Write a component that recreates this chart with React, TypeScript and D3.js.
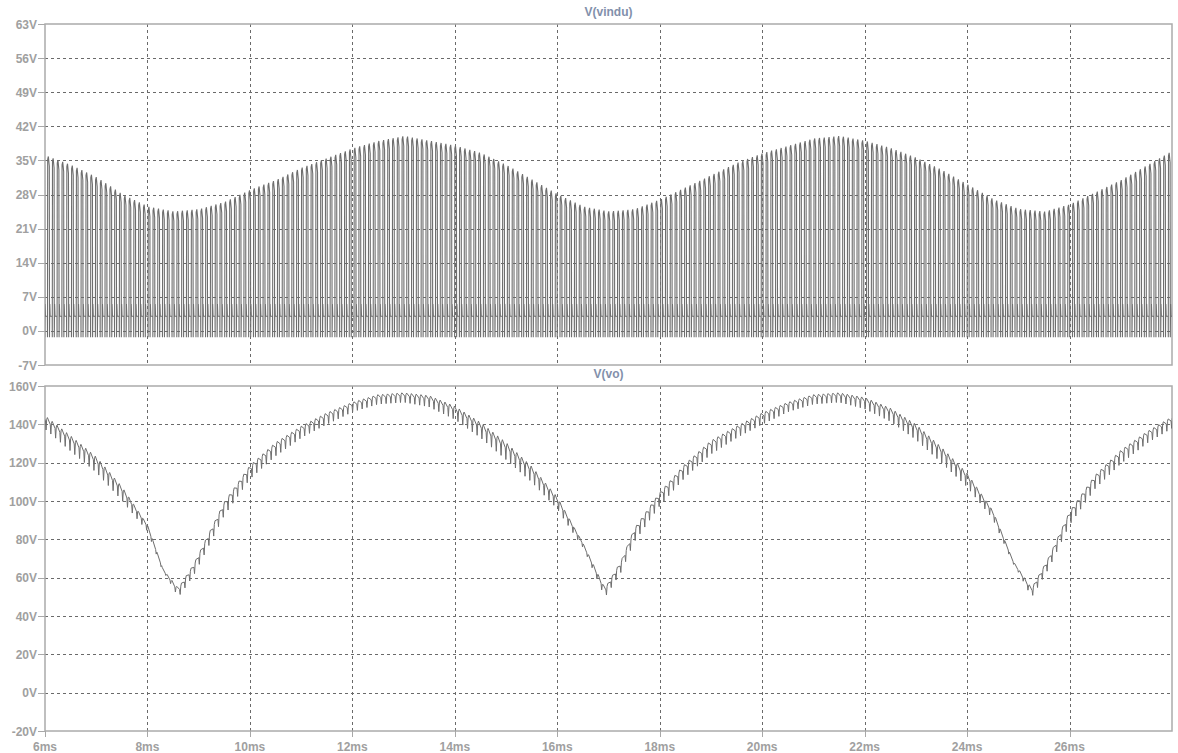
import React, { useEffect, useRef } from "react";
import * as d3 from "d3";

const msTicks = [6, 8, 10, 12, 14, 16, 18, 20, 22, 24, 26];
const vinduTicks = [-7, 0, 7, 14, 21, 28, 35, 42, 49, 56, 63];
const voTicks = [-20, 0, 20, 40, 60, 80, 100, 120, 140, 160];

// switching period of the converter (ms), counted off the pulses
const switchPeriod = 0.0935;

// V(vindu): pulse top, read every 0.5ms from 6ms to 28ms
const vinduT = d3.range(6, 28.01, 0.5);
const vinduPeak = [
  36, 34, 31.5, 28, 25.5, 24.5, 25, 26.5, 29, 31, 33.5, 35.5, 37.5, 39, 40,
  39, 38, 36.5, 34, 31, 28, 25.5, 24.5, 25, 27, 29.5, 32, 34.5, 36.5, 38,
  39.5, 40, 39, 37.5, 35.5, 33, 30, 27, 25, 24.5, 26, 28.5, 31, 34, 37,
];
const vinduLow = 3;
const vinduSpike = -1.3;
const vinduRing = 5.5;

// V(vo): middle of the ripple band and its depth
const voT = [
  6, 6.5, 7, 7.5, 8, 8.3, 8.6, 8.9, 9.5, 10, 10.5, 11, 11.5, 12, 12.5, 13,
  13.5, 14, 14.5, 15, 15.5, 16, 16.5, 16.93, 17.25, 17.5, 18, 18.5, 19, 19.5,
  20, 20.5, 21, 21.5, 22, 22.5, 23, 23.5, 24, 24.5, 24.9, 25.26, 25.6, 26,
  26.5, 27, 27.5, 28,
];
const voMid = [
  141, 130, 119, 104, 86, 64, 52, 64, 96, 115, 127, 136, 143, 149, 153, 154,
  152, 146, 137, 126, 114, 99, 77, 52, 66, 82, 101, 116, 128, 136, 143, 149,
  153, 154, 151, 145, 136, 124, 111, 93, 68, 52, 68, 91, 110, 123, 133, 141,
];
const voRipple = [
  7, 8, 8, 7, 3, 1, 5, 6, 7, 7, 7, 6, 6, 5, 5, 5, 6, 7, 8, 9, 8, 6, 2, 5, 6,
  7, 7, 7, 7, 6, 6, 5, 5, 5, 6, 7, 8, 8, 7, 4, 1, 5, 6, 7, 7, 7, 6, 6,
];

const FONT = "'Liberation Sans', Arial, sans-serif";

function App() {
  const ref = useRef<SVGSVGElement>(null);

  useEffect(() => {
    const svg = d3.select(ref.current).attr("width", 1178).attr("height", 753);
    svg.selectAll("*").remove();

    const x = d3.scaleLinear().domain([6, 28]).range([45, 1172]);
    const yTop = d3.scaleLinear().domain([-7, 63]).range([365, 24]);
    const yBot = d3.scaleLinear().domain([-20, 160]).range([731, 386]);

    const peakAt = d3.scaleLinear().domain(vinduT).range(vinduPeak).clamp(true);
    const midAt = d3.scaleLinear().domain(voT).range(voMid).clamp(true);
    const ripAt = d3.scaleLinear().domain(voT).range(voRipple).clamp(true);

    const defs = svg.append("defs");

    const panes = [
      { id: "top", y: yTop, ticks: vinduTicks, title: "V(vindu)" },
      { id: "bot", y: yBot, ticks: voTicks, title: "V(vo)" },
    ];

    panes.forEach((p, i) => {
      const [y1, y0] = p.y.range();
      const g = svg.append("g");

      defs
        .append("clipPath")
        .attr("id", "clip-" + p.id)
        .append("rect")
        .attr("x", 45)
        .attr("y", y0)
        .attr("width", 1172 - 45)
        .attr("height", y1 - y0);

      // grid
      g.selectAll(".hgrid")
        .data(p.ticks.slice(1, -1))
        .enter()
        .append("line")
        .attr("x1", 45)
        .attr("x2", 1172)
        .attr("y1", (d) => Math.round(p.y(d)) + 0.5)
        .attr("y2", (d) => Math.round(p.y(d)) + 0.5)
        .attr("stroke", "#6a6a6a")
        .attr("stroke-dasharray", "3,3");

      g.selectAll(".vgrid")
        .data(msTicks.slice(1))
        .enter()
        .append("line")
        .attr("x1", (d) => Math.round(x(d)) + 0.5)
        .attr("x2", (d) => Math.round(x(d)) + 0.5)
        .attr("y1", y0)
        .attr("y2", y1)
        .attr("stroke", "#6a6a6a")
        .attr("stroke-dasharray", "3,3");

      // y ticks + labels
      g.selectAll(".ytick")
        .data(p.ticks)
        .enter()
        .append("line")
        .attr("x1", 38)
        .attr("x2", 45)
        .attr("y1", (d) => Math.round(p.y(d)) + 0.5)
        .attr("y2", (d) => Math.round(p.y(d)) + 0.5)
        .attr("stroke", "#a8a8a8");

      g.selectAll(".ylab")
        .data(p.ticks)
        .enter()
        .append("text")
        .attr("x", 37)
        .attr("y", (d) => p.y(d) + 4.5)
        .attr("text-anchor", "end")
        .style("font-family", FONT)
        .style("font-weight", "bold")
        .style("font-size", "12px")
        .attr("fill", "#a0a0a0")
        .text((d) => d + "V");

      // title
      g.append("text")
        .attr("x", (45 + 1172) / 2)
        .attr("y", y0 - 8)
        .attr("text-anchor", "middle")
        .style("font-family", FONT)
        .style("font-weight", "bold")
        .style("font-size", "12px")
        .attr("fill", "#8290ab")
        .text(p.title);

      // frame
      g.append("rect")
        .attr("x", 45)
        .attr("y", y0)
        .attr("width", 1172 - 45)
        .attr("height", y1 - y0)
        .attr("fill", "none")
        .attr("stroke", "#ababab")
        .attr("stroke-width", 1.5);

      if (i === 1) {
        g.selectAll(".xtick")
          .data(msTicks)
          .enter()
          .append("line")
          .attr("x1", (d) => Math.round(x(d)) + 0.5)
          .attr("x2", (d) => Math.round(x(d)) + 0.5)
          .attr("y1", y1)
          .attr("y2", y1 + 6)
          .attr("stroke", "#a8a8a8");

        g.selectAll(".xlab")
          .data(msTicks)
          .enter()
          .append("text")
          .attr("x", (d) => x(d))
          .attr("y", 751)
          .attr("text-anchor", "middle")
          .style("font-family", FONT)
          .style("font-weight", "bold")
          .style("font-size", "12px")
          .attr("fill", "#a0a0a0")
          .text((d) => d + "ms");
      }
    });

    // V(vindu) switching waveform
    const T = switchPeriod;
    const starts = d3.range(6 - T / 2, 28 + T, T);
    const vinduPts: [number, number][] = [];
    starts.forEach((t0) => {
      const pk = peakAt(t0);
      vinduPts.push(
        [t0, vinduLow],
        [t0 + 0.02 * T, vinduSpike],
        [t0 + 0.06 * T, pk - 0.6],
        [t0 + 0.2 * T, pk],
        [t0 + 0.4 * T, pk - 2],
        [t0 + 0.44 * T, vinduSpike],
        [t0 + 0.5 * T, vinduRing],
        [t0 + 0.58 * T, vinduLow]
      );
    });

    const lineTop = d3
      .line<[number, number]>()
      .x((d) => x(d[0]))
      .y((d) => yTop(d[1]));

    svg
      .append("path")
      .attr("clip-path", "url(#clip-top)")
      .attr("d", lineTop(vinduPts))
      .attr("fill", "none")
      .attr("stroke", "#6e6e6e")
      .attr("stroke-width", 1.1);

    // V(vo) with its switching ripple: slow sag, then a sharp dip and recovery
    const voPts: [number, number][] = [];
    starts.forEach((t0) => {
      const r = ripAt(t0);
      voPts.push(
        [t0, midAt(t0) + r / 2],
        [t0 + 0.6 * T, midAt(t0 + 0.6 * T) + r / 6],
        [t0 + 0.72 * T, midAt(t0 + 0.72 * T) - r / 2],
        [t0 + 0.85 * T, midAt(t0 + 0.85 * T) + r / 3]
      );
    });

    const lineBot = d3
      .line<[number, number]>()
      .x((d) => x(d[0]))
      .y((d) => yBot(d[1]));

    svg
      .append("path")
      .attr("clip-path", "url(#clip-bot)")
      .attr("d", lineBot(voPts))
      .attr("fill", "none")
      .attr("stroke", "#6e6e6e")
      .attr("stroke-width", 1);
  }, []);

  return (
    <svg
      ref={ref}
      style={{ position: "absolute", left: 0, top: 0, background: "#fff" }}
    />
  );
}

export default App;
